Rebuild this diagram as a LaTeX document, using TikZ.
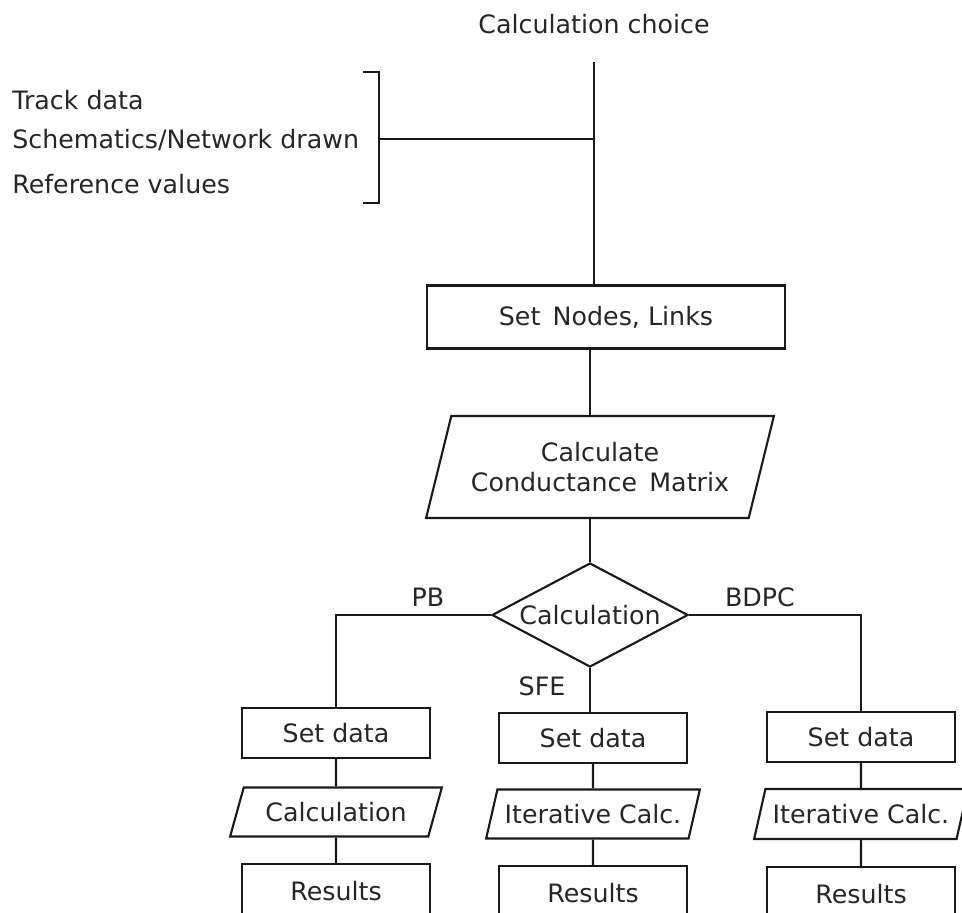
\documentclass[tikz,border=0pt]{standalone}
\usepackage{fontspec}
\setmainfont{DejaVu Sans}
\usepackage{tikz}
\usetikzlibrary{shapes.geometric}

\begin{document}
\begin{tikzpicture}[
  x=0.025cm,y=-0.025cm,
  font=\fontsize{18}{21}\selectfont,
  every node/.style={text=black!85},
  box/.style={rectangle,draw=black!90,line width=1.5pt,inner sep=0pt,align=center},
  io/.style={trapezium,trapezium left angle=62,trapezium right angle=118,trapezium stretches=true,draw=black!90,line width=1.5pt,inner sep=0pt,align=center},
  choice/.style={diamond,aspect=1.88,draw=black!90,line width=1.5pt,inner sep=0pt,minimum width=4.9cm,minimum height=2.6cm},
  link/.style={draw=black!90,line width=1.5pt}
]
\useasboundingbox (0,0) rectangle (962,913);
\clip (0,0) rectangle (962,913);

% inputs and main column
\node (start) at (594,24) {Calculation choice};
\node[anchor=west,inner sep=0pt] (in1) at (12,100) {Track data};
\node[anchor=west,inner sep=0pt] (in2) at (12,140) {Schematics/Network drawn};
\node[anchor=west,inner sep=0pt] (in3) at (12,184) {Reference values};
\coordinate (top) at (594,62);
\coordinate (brt) at (363,72);
\coordinate (brb) at (363,203);
\coordinate (brm) at (379,139);

\node[box,minimum width=8.95cm,minimum height=1.575cm] (snl) at (606,317) {Set\, Nodes, Links};
\node[io,trapezium left angle=66,trapezium right angle=114,minimum width=8.7cm,minimum height=2.55cm] (ccm) at (600,467) {Calculate\\Conductance\, Matrix};
\node[choice] (calc) at (590,615) {Calculation};

% three branches
\node[box,minimum width=4.7cm,minimum height=1.25cm] (sdl) at (336,733) {Set data};
\node[box,minimum width=4.7cm,minimum height=1.25cm] (sdm) at (593,738) {Set data};
\node[box,minimum width=4.7cm,minimum height=1.25cm] (sdr) at (861,737) {Set data};
\node[io,minimum width=5.3cm,minimum height=1.225cm] (cl) at (336,812) {Calculation};
\node[io,minimum width=5.35cm,minimum height=1.225cm] (cm) at (593,814) {Iterative Calc.};
\node[io,minimum width=5.35cm,minimum height=1.25cm] (cr) at (861,814) {Iterative Calc.};
\node[box,minimum width=4.7cm,minimum height=1.35cm] (rl) at (336,891) {Results};
\node[box,minimum width=4.7cm,minimum height=1.35cm] (rm) at (593,893) {Results};
\node[box,minimum width=4.7cm,minimum height=1.35cm] (rr) at (861,894) {Results};

\node (pb) at (428,597) {PB};
\node (bdpc) at (760,597) {BDPC};
\node (sfe) at (542,686) {SFE};

\draw[link] (brt) -- (brt -| brm) -- (brb -| brm) -- (brb);
\draw[link] (brm) -- (top |- brm);
\draw[link] (top) -- (top |- snl.north);
\draw[link] (snl.south -| calc.north) -- (calc.north |- ccm.north);
\draw[link] (calc.north |- ccm.south) -- (calc.north);
\draw[link] (calc.west) -| (sdl.north);
\draw[link] (calc.east) -| (sdr.north);
\draw[link] (calc.south) -- (calc.south |- sdm.north);
\draw[link] (sdl) -- (cl) -- (rl);
\draw[link] (sdm) -- (cm) -- (rm);
\draw[link] (sdr) -- (cr) -- (rr);
\end{tikzpicture}
\end{document}
